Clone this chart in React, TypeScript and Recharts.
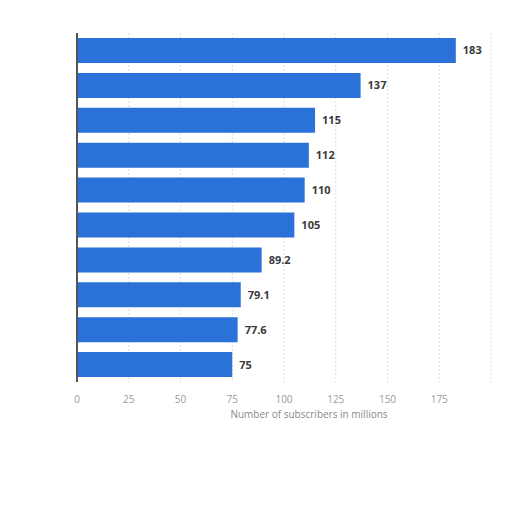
import React from 'react';
import { BarChart, Bar, XAxis, YAxis, CartesianGrid, LabelList, Label } from 'recharts';

const categories = ['1', '2', '3', '4', '5', '6', '7', '8', '9', '10'];
const subscribers = [183, 137, 115, 112, 110, 105, 89.2, 79.1, 77.6, 75];
const xTicks = [0, 25, 50, 75, 100, 125, 150, 175];

const data = categories.map((name, i) => ({ name, value: subscribers[i] }));

const App: React.FC = () => {
  return (
    <div style={{ position: 'absolute', left: 0, top: 0, background: '#fff' }}>
      <BarChart
        width={512}
        height={512}
        data={data}
        layout="vertical"
        margin={{ top: 33, right: 21, left: 0, bottom: 98 }}
        barCategoryGap={5}
      >
        <CartesianGrid horizontal={false} strokeDasharray="2 2" stroke="#dcdcdc" />
        <XAxis
          type="number"
          domain={[0, 200]}
          ticks={xTicks}
          axisLine={false}
          tickLine={false}
          height={32}
          tick={{ fill: '#9a9a9a', fontSize: 10, fontFamily: 'Open Sans', dy: 6 }}
        >
          <Label
            value="Number of subscribers in millions"
            position="insideBottom"
            offset={-4}
            dx={25}
            style={{ fill: '#8a8a8a', fontSize: 10, fontFamily: 'Open Sans' }}
          />
        </XAxis>
        <YAxis
          type="category"
          dataKey="name"
          width={77}
          tick={false}
          tickLine={false}
          axisLine={{ stroke: '#555', strokeWidth: 2 }}
        />
        <Bar dataKey="value" fill="#2a71d8" isAnimationActive={false}>
          <LabelList
            dataKey="value"
            position="right"
            offset={7}
            style={{ fill: '#3a3a3a', fontSize: 11, fontWeight: 'bold', fontFamily: 'Open Sans' }}
          />
        </Bar>
      </BarChart>
    </div>
  );
};

export default App;
